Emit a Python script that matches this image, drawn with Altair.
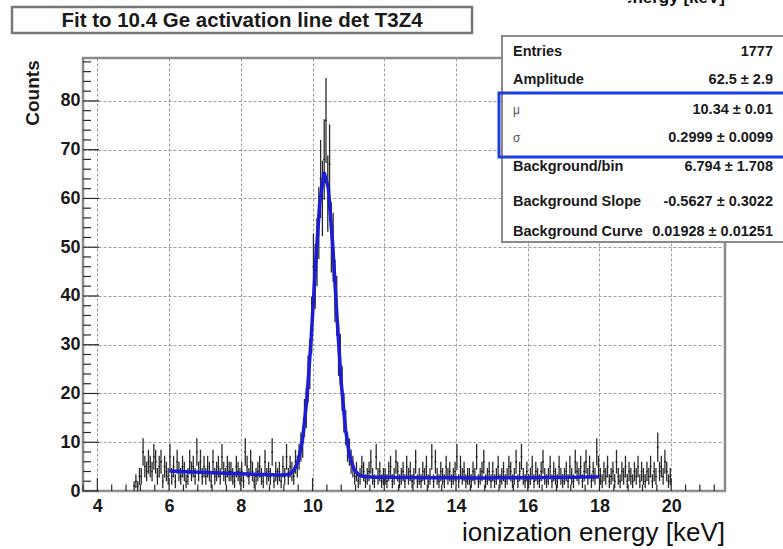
import altair as alt
import numpy as np
import pandas as pd

# ---------------------------------------------------------------------------
# Measured spectrum: counts per 0.05 keV bin, one row per keV, from 5.00 keV
# ---------------------------------------------------------------------------
BIN_START = 5.0
BIN_WIDTH = 0.05

counts_05 = [1, 2, 1, 3, 3, 8, 5, 4, 6, 5, 4, 7, 6, 3, 5, 6, 2, 5, 4, 3]
counts_06 = [7, 3, 5, 2, 6, 4, 3, 5, 4, 2, 3, 6, 4, 5, 3, 8, 4, 6, 3, 5]
counts_07 = [3, 5, 4, 2, 6, 3, 4, 5, 3, 7, 4, 3, 5, 4, 4, 3, 2, 5, 4, 3]
counts_08 = [4, 2, 8, 5, 3, 6, 4, 2, 3, 4, 5, 3, 2, 6, 3, 4, 3, 8, 2, 4]
counts_09 = [3, 4, 2, 5, 3, 7, 3, 5, 4, 3, 6, 5, 7, 9, 10, 15, 17, 23, 26, 34]
counts_10 = [46, 44, 49, 55, 64, 60, 68, 76, 61, 67, 52, 50, 41, 38, 29, 27, 21, 16, 13, 9]
counts_11 = [8, 6, 5, 3, 4, 2, 3, 5, 4, 2, 3, 4, 6, 3, 2, 7, 3, 4, 2, 3]
counts_12 = [3, 2, 4, 5, 2, 3, 6, 4, 2, 3, 4, 2, 5, 3, 4, 2, 3, 6, 2, 3]
counts_13 = [2, 4, 3, 5, 2, 3, 7, 2, 6, 3, 2, 4, 3, 2, 5, 3, 4, 2, 3, 4]
counts_14 = [7, 2, 5, 3, 4, 2, 3, 3, 2, 4, 3, 7, 2, 3, 4, 6, 2, 3, 4, 2]
counts_15 = [4, 2, 3, 5, 2, 3, 4, 2, 3, 5, 4, 2, 3, 6, 2, 4, 7, 3, 2, 4]
counts_16 = [2, 3, 5, 2, 4, 3, 2, 4, 6, 3, 2, 3, 5, 2, 4, 3, 2, 5, 3, 2]
counts_17 = [3, 4, 2, 5, 3, 2, 6, 4, 3, 5, 2, 4, 6, 3, 5, 2, 4, 3, 8, 5]
counts_18 = [3, 2, 4, 3, 5, 2, 3, 4, 2, 6, 3, 2, 4, 3, 5, 2, 4, 3, 2, 4]
counts_19 = [3, 5, 2, 4, 3, 2, 4, 3, 5, 2, 4, 3, 9, 4, 5, 3, 6, 4, 2, 3]

# Fit result: gaussian peak on a quadratic background
fit_amplitude = 62.5
fit_mu = 10.34
fit_sigma = 0.2999
fit_bkg = 6.794
fit_slope = -0.5627
fit_curve = 0.01928
fit_range = [6.0, 18.0]

# Statistics box
stat_labels = ["Entries", "Amplitude", "\u03bc", "\u03c3", "Background/bin",
               "Background Slope", "Background Curve"]
stat_values = ["1777", "62.5 \u00b1 2.9", "10.34 \u00b1 0.01", "0.2999 \u00b1 0.0099",
               "6.794 \u00b1 1.708", "-0.5627 \u00b1 0.3022", "0.01928 \u00b1 0.01251"]

title_text = "Fit to 10.4 Ge activation line det T3Z4"
x_title = "ionization energy [keV]"
y_title = "Counts"

x_labels = [4, 6, 8, 10, 12, 14, 16, 18, 20]
y_labels = [0, 10, 20, 30, 40, 50, 60, 70, 80]

# ---------------------------------------------------------------------------
# Tables
# ---------------------------------------------------------------------------
counts = (counts_05 + counts_06 + counts_07 + counts_08 + counts_09 + counts_10 +
          counts_11 + counts_12 + counts_13 + counts_14 + counts_15 + counts_16 +
          counts_17 + counts_18 + counts_19)
n = np.array(counts, dtype=float)
lo_edge = BIN_START + BIN_WIDTH * np.arange(len(n))
hist = pd.DataFrame({
    "lo": lo_edge,
    "hi": lo_edge + BIN_WIDTH,
    "center": lo_edge + BIN_WIDTH / 2,
    "n": n,
    "err_lo": n - np.sqrt(n),
    "err_hi": n + np.sqrt(n),
})
hist = hist[hist["n"] > 0]

fx = np.linspace(fit_range[0], fit_range[1], 101)
fy = (fit_amplitude * np.exp(-0.5 * ((fx - fit_mu) / fit_sigma) ** 2)
      + fit_bkg + fit_slope * fx + fit_curve * fx ** 2)
fit = pd.DataFrame({"x": fx, "y": fy})

y_major = pd.DataFrame({"v": y_labels})
y_minor = pd.DataFrame({"v": [v for v in range(0, 89, 2) if v % 10]})
x_major = pd.DataFrame({"v": x_labels})
x_minor = pd.DataFrame({"v": [round(v, 1) for v in np.arange(3.6, 21.45, 0.4)
                              if abs(v / 2 - round(v / 2)) > 1e-6]})

# ---------------------------------------------------------------------------
# Layout
# ---------------------------------------------------------------------------
W, H = 642, 433
PAD = {"left": 83, "top": 58, "right": 58, "bottom": 58}
FONT = "Liberation Sans"
INK = "#1a1a1a"

xs = alt.Scale(domain=[3.6, 21.5], nice=False, zero=False)
ys = alt.Scale(domain=[0, 88.8], nice=False, zero=False)

grid = dict(grid=True, gridColor="#9c9c9c", gridDash=[3, 2], gridWidth=1,
            ticks=False, domain=False, labelFont=FONT, labelFontSize=18,
            labelFontWeight="bold", labelColor=INK, labelOverlap=False,
            labelFlush=False, title=None)
x_axis = alt.Axis(values=x_labels, format="d", labelPadding=6, **grid)
y_axis = alt.Axis(values=y_labels, format="d", labelPadding=3, **grid)


def X(field):
    return alt.X(field, type="quantitative", scale=xs, axis=x_axis, title=None)


def Y(field):
    return alt.Y(field, type="quantitative", scale=ys, axis=y_axis, title=None)


one = pd.DataFrame({"k": [0]})

# histogram drawn as error bars with a bin-width stroke at the content
err_bars = alt.Chart(hist).mark_rule(color="#2b2b2b", strokeWidth=1.3).encode(
    x=X("center"), y=Y("err_lo"), y2="err_hi")
bin_tops = alt.Chart(hist).mark_rule(color="#1e1e1e", strokeWidth=1.3).encode(
    x=X("lo"), x2="hi", y=Y("n"))

fit_line = alt.Chart(fit).mark_line(color="#1c1cd4", strokeWidth=3.5).encode(
    x=X("x"), y=Y("y"))

# axis ticks pointing into the frame
tick_style = dict(color="#2a2a2a", strokeWidth=1.2)
y_major_t = alt.Chart(y_major).mark_rule(**tick_style).encode(
    y=Y("v"), x=alt.value(0), x2=alt.value(16))
y_minor_t = alt.Chart(y_minor).mark_rule(**tick_style).encode(
    y=Y("v"), x=alt.value(0), x2=alt.value(8))
x_major_t = alt.Chart(x_major).mark_rule(**tick_style).encode(
    x=X("v"), y=alt.value(H), y2=alt.value(H - 13))
x_minor_t = alt.Chart(x_minor).mark_rule(**tick_style).encode(
    x=X("v"), y=alt.value(H), y2=alt.value(H - 6.5))


def px(ax, ay):
    """absolute page position -> plot-area offset"""
    return ax - PAD["left"], ay - PAD["top"]


def box(x0, y0, x1, y1, **style):
    a, b = px(x0, y0)
    c, d = px(x1, y1)
    return alt.Chart(one).mark_rect(**style).encode(
        x=alt.value(a), x2=alt.value(c), y=alt.value(b), y2=alt.value(d))


def label(text, ax, ay, **style):
    a, b = px(ax, ay)
    return alt.Chart(one).mark_text(text=text, font=FONT, **style).encode(
        x=alt.value(a), y=alt.value(b))


# statistics box
stats_layers = [box(502, 36, 790, 242, fill="white", stroke="#8a8a8a", strokeWidth=2)]
row_y = [52, 80, 110, 138, 167, 202, 232]
for lab, val, yy in zip(stat_labels, stat_values, row_y):
    greek = lab in ("\u03bc", "\u03c3")
    stats_layers.append(label(lab, 513, yy, align="left", baseline="middle",
                              fontSize=12 if greek else 14.5,
                              fontWeight="normal" if greek else "bold",
                              color="#555555" if greek else INK))
    stats_layers.append(label(val, 773, yy, align="right", baseline="middle",
                              fontSize=14.5, fontWeight="bold", color=INK))
stats_layers.append(box(499, 93, 795, 157, fill="white", fillOpacity=0,
                        stroke="#1d3fe0", strokeWidth=3))

axis_titles = [
    label(y_title, 33, 93, angle=270, align="center", baseline="middle",
          fontSize=19, fontWeight="bold", color=INK),
    label(x_title, 725, 541, align="right", baseline="alphabetic",
          fontSize=26, color="#111111"),
    # same caption higher up, running off the top edge, its start hidden
    # behind a white label patch
    label(x_title, 725, 3, align="right", baseline="alphabetic",
          fontSize=17, fontWeight="bold", color="#111111"),
    box(478, -2, 628, 6.5, fill="white", stroke="white", strokeWidth=0),
]

# title box
title_layers = [
    box(12, 7, 472, 33, fill="white", stroke="#777777", strokeWidth=2.5),
    label(title_text, 242, 21, align="center", baseline="middle",
          fontSize=20.5, fontWeight="bold", color=INK),
]

chart = alt.layer(
    err_bars, bin_tops, fit_line,
    y_major_t, y_minor_t, x_major_t, x_minor_t,
    *stats_layers, *axis_titles, *title_layers,
).properties(
    width=W, height=H, padding=PAD,
    autosize=alt.AutoSizeParams(type="none"),
    background="white",
).configure_view(stroke="#8a8a8a", strokeWidth=2.5)

chart.save("out.html", embed_options={"renderer": "svg", "actions": False})
